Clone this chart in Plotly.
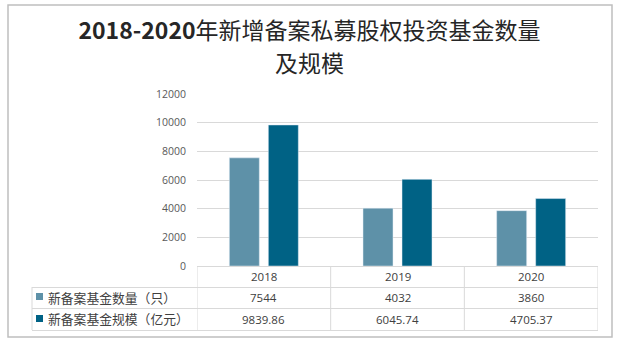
import plotly.graph_objects as go

years = ["2018", "2019", "2020"]
count_label = "新备案基金数量（只）"
scale_label = "新备案基金规模（亿元）"
counts = [7544, 4032, 3860]
scales = [9839.86, 6045.74, 4705.37]
count_text = ["7544", "4032", "3860"]
scale_text = ["9839.86", "6045.74", "4705.37"]
y_ticks = [0, 2000, 4000, 6000, 8000, 10000, 12000]
title_line1 = "<b>2018-2020</b>年新增备案私募股权投资基金数量"
title_line2 = "及规模"

c_light = "#5E91A8"
c_dark = "#006285"
grid = "#D9D9D9"
txt = "#404040"

W, H = 619, 340
L, R, T, B = 197, 598, 94, 266


def px(x):
    return (x - L) / (R - L)


def py(y):
    return (B - y) / (B - T)


fig = go.Figure()
fig.add_bar(x=years, y=counts, name=count_label, marker_color=c_light)
fig.add_bar(x=years, y=scales, name=scale_label, marker_color=c_dark)

shapes = []
# outer frame
shapes.append(dict(type="rect", xref="paper", yref="paper",
                   x0=px(8), x1=px(612), y0=py(337), y1=py(5),
                   line=dict(color="#BFBFBF", width=1.5)))
# table horizontal lines
for yy, x0 in [(266, L), (287, 32), (308, 32), (330, 32)]:
    shapes.append(dict(type="line", xref="paper", yref="paper",
                       x0=px(x0), x1=1.0, y0=py(yy + 0.5), y1=py(yy + 0.5),
                       line=dict(color=grid, width=1)))
# table vertical lines
shapes.append(dict(type="line", xref="paper", yref="paper",
                   x0=px(32), x1=px(32), y0=py(287), y1=py(330),
                   line=dict(color=grid, width=1)))
for i in range(len(years) + 1):
    shapes.append(dict(type="line", xref="x", yref="paper",
                       x0=i - 0.5, x1=i - 0.5, y0=py(266), y1=py(330),
                       line=dict(color=grid, width=1)))
# legend keys
for (y0, y1), col in [((293, 300), c_light), ((315, 322), c_dark)]:
    shapes.append(dict(type="rect", xref="paper", yref="paper",
                       x0=px(36), x1=px(43), y0=py(y1), y1=py(y0),
                       fillcolor=col, line=dict(width=0)))

num_font = dict(size=11.5, color=txt, family="Open Sans")
ann = []
for i, yr in enumerate(years):
    for label, yy in [(yr, 276.5), (count_text[i], 297.5), (scale_text[i], 319)]:
        ann.append(dict(x=i, y=py(yy), xref="x", yref="paper", text=label,
                        xanchor="center", yanchor="middle",
                        showarrow=False, font=num_font))
for lab, yy in [(count_label, 297), (scale_label, 318.5)]:
    ann.append(dict(x=px(46), y=py(yy), xref="paper", yref="paper", text=lab,
                    xanchor="left", yanchor="middle", showarrow=False,
                    font=dict(size=12.8, color=txt, family="Noto Sans CJK SC")))

title_font = dict(size=23, color="#262626", family="Noto Sans CJK SC")
ann.append(dict(x=px(W / 2), y=py(62), xref="paper", yref="paper",
                text=title_line2, showarrow=False, xanchor="center",
                yanchor="middle", font=title_font))

fig.update_layout(
    width=W, height=H,
    margin=dict(l=L, r=W - R, t=T, b=H - B, pad=0),
    paper_bgcolor="white", plot_bgcolor="white",
    barmode="group", bargap=0.4165, bargroupgap=0.2308,
    showlegend=False,
    title=dict(text=title_line1,
               xref="container", yref="container", x=0.5, y=1 - 31 / H,
               xanchor="center", yanchor="middle", font=title_font),
    xaxis=dict(type="category", showticklabels=False, showgrid=False, zeroline=False,
               showline=False, range=[-0.5, 2.5], fixedrange=True),
    yaxis=dict(range=[0, 12000], tickvals=y_ticks, tickformat="d",
               showgrid=True, gridcolor=grid,
               gridwidth=1, zeroline=False, showline=False,
               ticklabelstandoff=10,
               tickfont=dict(size=10.5, color="#595959", family="Open Sans")),
    shapes=shapes, annotations=ann,
)

fig.write_html("out.html")
